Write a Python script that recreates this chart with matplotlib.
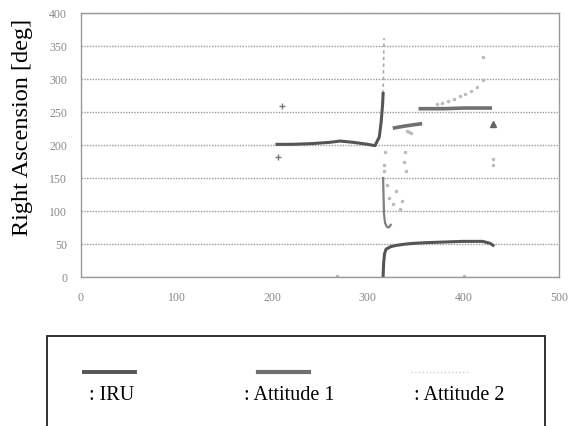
import numpy as np
import matplotlib.pyplot as plt
from matplotlib.lines import Line2D
from matplotlib.patches import Rectangle

# IRU: flat near 200, jumps up, wraps through 360 to 0, then settles near 55
iru_x1 = [205, 220, 240, 260, 271, 285, 300, 307.5, 312, 314, 315.5, 316]
iru_y1 = [201, 201, 202, 204, 206, 204, 201, 199, 212, 235, 262, 278]
iru_x2 = [316, 316.5, 317.5, 319, 324, 330, 340, 348, 360, 380, 400, 420, 428, 431]
iru_y2 = [0, 20, 35, 42, 46, 48, 50, 51, 52, 53, 54, 54, 51, 48]

# Attitude 1 segments
att1_xa = [328, 340, 355]
att1_ya = [226, 229, 232]
att1_xb = [355, 380, 400, 428]
att1_yb = [255, 255, 256, 256]
att1_xc = [316, 316.5, 317, 318, 320, 322, 324]
att1_yc = [150, 120, 95, 82, 76, 75, 79]
att1_mx = [210, 206]
att1_my = [259, 182]
att1_tx = [431]
att1_ty = [232]

# Attitude 2 (light trace)
att2_vx = [316, 316.3, 316.6, 317]
att2_vy = [278, 300, 330, 362]
att2_x = [317, 317, 318, 320, 322, 326, 330, 334, 336, 338, 339,
          340, 341, 343, 345, 372, 378, 384, 390, 396, 402, 408, 414, 420, 421,
          431, 431, 268, 401]
att2_y = [160, 170, 190, 140, 120, 110, 130, 103, 115, 174, 189,
          160, 221, 220, 218, 262, 264, 266, 270, 275, 277, 282, 288, 298, 333,
          179, 170, 2, 2]

fig = plt.figure(figsize=(5.7, 4.27), dpi=100)
ax = fig.add_axes([81 / 570, 1 - 278 / 427, 478 / 570, 264 / 427])

ax.plot(att2_vx, att2_vy, color='#aaaaaa', lw=1.2, ls=(0, (2, 2)))
ax.plot(iru_x1, iru_y1, color='#555555', lw=2.2)
ax.plot(iru_x2, iru_y2, color='#555555', lw=2.2)
ax.plot(att1_xa, att1_ya, color='#707070', lw=2.6)
ax.plot(att1_xb, att1_yb, color='#707070', lw=2.6)
ax.plot(att1_xc, att1_yc, color='#808080', lw=1.6)
ax.plot(att1_mx, att1_my, ls='none', marker='+', color='#777777', ms=5)
ax.plot(att1_tx, att1_ty, ls='none', marker='^', color='#666666', ms=4)
ax.plot(att2_x, att2_y, ls='none', marker='.', color='#bbbbbb', ms=3)

ax.set_xlim(0, 500)
ax.set_ylim(0, 400)
ax.set_xticks(np.arange(0, 501, 100))
ax.set_yticks(np.arange(0, 401, 50))
ax.yaxis.grid(True, color='#999999', lw=1.0, ls=(0, (1, 1)))
ax.set_axisbelow(True)
for s in ax.spines.values():
    s.set_color('#999999')
    s.set_linewidth(1.0)
ax.tick_params(length=0, labelsize=8.5, labelcolor='#888888', pad=10)
for lab in ax.get_xticklabels() + ax.get_yticklabels():
    lab.set_family('Liberation Serif')
ax.set_ylabel('Right Ascension [deg]', family='Liberation Serif', fontsize=17.5)
ax.yaxis.set_label_coords(-0.10, 0.57)

# legend box drawn below the plot
fig.patches.append(Rectangle((47 / 570, -0.05), 498 / 570, 1.05 - 337 / 427,
                             transform=fig.transFigure, fill=False,
                             edgecolor='#222222', lw=1.3))
y_line = 1 - 373 / 427
y_text = 1 - 396 / 427
items = [(84, 135, '#555555', 2.8, '-', 89, ': IRU'),
         (258, 309, '#707070', 3.0, '-', 244, ': Attitude 1'),
         (411, 469, '#cccccc', 1.0, ':', 414, ': Attitude 2')]
for x0, x1, c, lw, ls, tx, label in items:
    fig.lines.append(Line2D([x0 / 570, x1 / 570], [y_line, y_line],
                            transform=fig.transFigure, color=c, lw=lw, ls=ls))
    fig.text(tx / 570, y_text, label, family='Liberation Serif', fontsize=14.5,
             va='center', ha='left')

fig.savefig('out.png', dpi=100)
